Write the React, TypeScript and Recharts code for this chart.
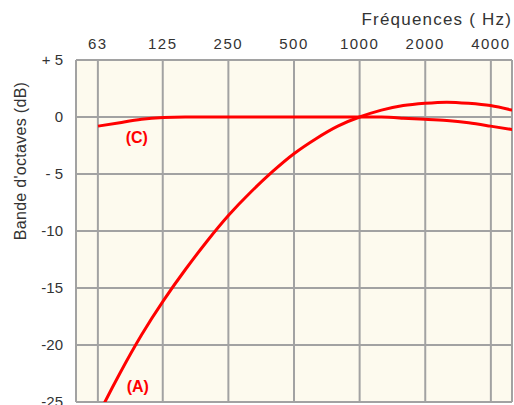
import { LineChart, Line, XAxis, YAxis, CartesianGrid, ReferenceLine, ReferenceDot } from 'recharts'

// fréquences centrales exactes des tiers d'octave (Hz) et pondérations (dB)
const freqs = [50.1, 63.1, 79.4, 100, 125.9, 158.5, 199.5, 251.2, 316.2, 398.1, 501.2, 631, 794.3, 1000, 1258.9, 1584.9, 1995.3, 2511.9, 3162.3, 3981.1, 5011.9]
const weightA = [-30.2, -26.2, -22.5, -19.1, -16.1, -13.4, -10.9, -8.6, -6.6, -4.8, -3.2, -1.9, -0.8, 0, 0.6, 1.0, 1.2, 1.3, 1.2, 1.0, 0.6]
const weightC = [null, -0.8, -0.5, -0.2, -0.05, 0, 0, 0, 0, 0, 0, 0, 0, 0, 0, -0.1, -0.2, -0.3, -0.5, -0.8, -1.1]
const xTicks = [63, 125, 250, 500, 1000, 2000, 4000]
const yTicks = [5, 0, -5, -10, -15, -20, -25]

const red = '#FF0000', grid = '#A2A2A2', txt = '#333333', bg = '#FDFAEE'
const font = 'Arial, "Liberation Sans", sans-serif'

const data = freqs.map((f, i) => ({ f, A: weightA[i], C: weightC[i] }))

const fmtY = (v: number) => (v > 0 ? `+ ${v}` : v === -5 ? '- 5' : `${v}`)

export default function App() {
  return (
    <div style={{ position: 'fixed', left: 0, top: 0, width: 514, height: 405, background: '#fff', fontFamily: font, overflow: 'hidden' }}>
      <div style={{ position: 'absolute', right: 2, top: 10, fontSize: 17, color: txt, letterSpacing: 1.2 }}>Fréquences ( Hz)</div>
      <div style={{ position: 'absolute', left: 21, top: 161, transform: 'translate(-50%, -50%) rotate(-90deg)', whiteSpace: 'nowrap', fontSize: 16, color: txt, letterSpacing: 0.3 }}>
        Bande d'octaves (dB)
      </div>
      <LineChart width={514} height={405} data={data} margin={{ top: 30, right: 2, left: 14, bottom: 3 }} style={{ position: 'absolute', left: 0, top: 0 }}>
        <CartesianGrid fill={bg} stroke={grid} strokeWidth={2} strokeOpacity={1} horizontalValues={yTicks} verticalValues={xTicks} />
        <XAxis
          dataKey="f" type="number" scale="log" domain={[50, 5000]} allowDataOverflow
          orientation="top" ticks={xTicks} height={30} interval={0}
          axisLine={{ stroke: grid, strokeWidth: 2 }} tickLine={false}
          tick={{ fontSize: 15, fill: txt, fontFamily: font, letterSpacing: 1.5 }} tickMargin={5}
        />
        <YAxis
          type="number" domain={[-25, 5]} allowDataOverflow ticks={yTicks} width={62} interval={0}
          tickFormatter={fmtY} axisLine={{ stroke: grid, strokeWidth: 2 }} tickLine={false}
          tick={{ fontSize: 15, fill: txt, fontFamily: font }} tickMargin={7}
        />
        <ReferenceLine x={5000} stroke={grid} strokeWidth={2} />
        <ReferenceLine y={-25} stroke={grid} strokeWidth={2} />
        <Line dataKey="C" type="natural" stroke={red} strokeWidth={3} dot={false} isAnimationActive={false} connectNulls />
        <Line dataKey="A" type="natural" stroke={red} strokeWidth={3} dot={false} isAnimationActive={false} />
        <ReferenceDot x={95} y={-1.8} r={0} label={{ value: '(C)', fill: red, fontSize: 16, fontWeight: 'bold', fontFamily: font, position: 'center' }} />
        <ReferenceDot x={96} y={-23.6} r={0} label={{ value: '(A)', fill: red, fontSize: 16, fontWeight: 'bold', fontFamily: font, position: 'center' }} />
      </LineChart>
    </div>
  )
}
